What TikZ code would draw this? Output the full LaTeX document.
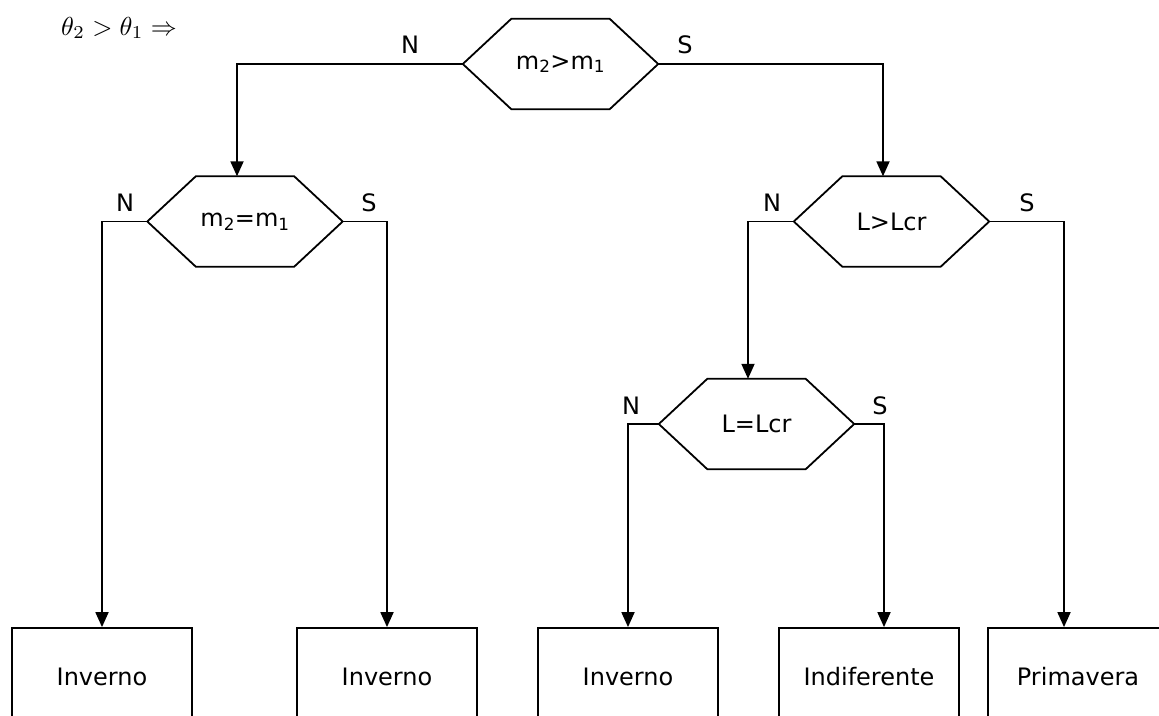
\documentclass[tikz,border=0pt]{standalone}
\usepackage[no-math]{fontspec}
\usepackage{graphicx}
\setmainfont{DejaVu Sans}
\usetikzlibrary{arrows.meta,calc}
\newcommand\hexpath[1]{\draw[ln] (#1.west) -- ([xshift=48.5pt]#1.north west) -- ([xshift=-48.5pt]#1.north east) -- (#1.east) -- ([xshift=-48.5pt]#1.south east) -- ([xshift=48.5pt]#1.south west) -- cycle;}
\begin{document}
\begin{tikzpicture}[x=1pt,y=-1pt,
  ln/.style={line width=1.8pt},
  arr/.style={ln,-{Triangle[width=13pt,length=15pt]}},
  hexa/.style={minimum width=195pt,minimum height=90pt,inner sep=0pt,font=\fontsize{24}{28}\selectfont},
  outbox/.style={draw,line width=1.8pt,minimum width=180pt,minimum height=98pt,inner sep=0pt,font=\fontsize{24}{28}\selectfont},
  lbl/.style={inner sep=0pt,font=\fontsize{24}{28}\selectfont}]
\useasboundingbox (0,0) rectangle (1159,715);
\clip (0,0) rectangle (1159,715);
\fill[white] (0,0) rectangle (1159,715);

\node[inner sep=0pt,anchor=base west] (title) at (61,35) {\scalebox{2.6}{$\theta_2>\theta_1\Rightarrow$}};

\node[hexa] (h1) at (560.5,64) {m\textsubscript{2}>m\textsubscript{1}};
\node[hexa] (h2) at (245,221.5) {m\textsubscript{2}=m\textsubscript{1}};
\node[hexa] (h3) at (891.5,221.5) {L>Lcr};
\node[hexa] (h4) at (756.5,424) {L=Lcr};
\foreach \h in {h1,h2,h3,h4} {\hexpath{\h}}

\node[outbox] (b1) at (102,677) {Inverno};
\node[outbox] (b2) at (387,677) {Inverno};
\node[outbox] (b3) at (628,677) {Inverno};
\node[outbox] (b4) at (869,677) {Indiferente};
\node[outbox] (b5) at (1078,677) {Primavera};

\draw[arr] (h1.west) -| ([xshift=-8pt]h2.north);
\draw[arr] (h1.east) -| ([xshift=-8.5pt]h3.north);
\draw[arr] (h2.west) -| (b1.north);
\draw[arr] (h2.east) -| (b2.north);
\draw[arr] (h3.west) -| ([xshift=-8.5pt]h4.north);
\draw[arr] (h3.east) -| ([xshift=-14pt]b5.north);
\draw[arr] (h4.west) -| (b3.north);
\draw[arr] (h4.east) -| ([xshift=15pt]b4.north);

\node[lbl] (n1) at (410,45) {N};
\node[lbl] (s1) at (685,45) {S};
\node[lbl] (n2) at (125,203) {N};
\node[lbl] (s2) at (369,203) {S};
\node[lbl] (n3) at (772,203) {N};
\node[lbl] (s3) at (1027,203) {S};
\node[lbl] (n4) at (631,406) {N};
\node[lbl] (s4) at (880,406) {S};
\end{tikzpicture}
\end{document}
